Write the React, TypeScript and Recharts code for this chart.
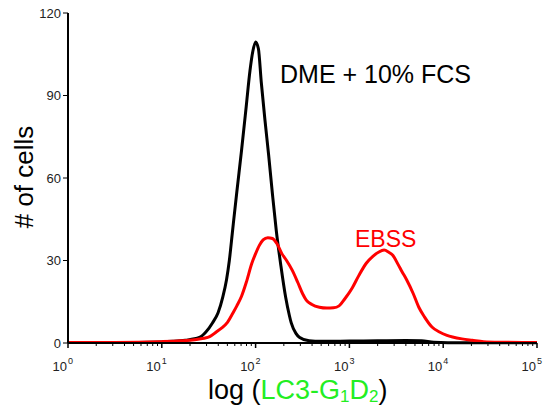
import { LineChart, Line, XAxis, YAxis } from 'recharts'

// log10 of fluorescence intensity and cell counts
const dmeLog = [0, 0.5, 1.0, 1.12, 1.25, 1.4, 1.47, 1.54, 1.6, 1.65, 1.69, 1.72, 1.755, 1.8, 1.85, 1.9, 1.94, 1.97, 2.0, 2.03, 2.06, 2.1, 2.14, 2.18, 2.22, 2.27, 2.32, 2.36, 2.38, 2.43, 2.47, 2.57, 2.7, 3.0, 3.3, 3.6, 3.77, 3.9, 4.2, 5]
const dmeCount = [0.2, 0.2, 0.4, 0.6, 1.0, 2.0, 4.0, 7.3, 11, 16.7, 23, 30, 41, 55, 70, 86, 99, 106, 109.5, 107, 95, 81, 68, 54, 41, 28, 16.7, 10, 7.3, 3.5, 2.0, 0.8, 0.6, 0.7, 0.8, 0.9, 0.8, 0.3, 0.1, 0.1]

const ebssLog = [0, 0.5, 1.0, 1.2, 1.35, 1.45, 1.51, 1.58, 1.64, 1.7, 1.76, 1.8, 1.85, 1.9, 1.96, 2.0, 2.04, 2.08, 2.13, 2.18, 2.23, 2.28, 2.33, 2.39, 2.45, 2.5, 2.54, 2.6, 2.68, 2.76, 2.83, 2.89, 2.95, 3.03, 3.1, 3.18, 3.25, 3.31, 3.37, 3.42, 3.46, 3.52, 3.56, 3.61, 3.68, 3.74, 3.8, 3.88, 3.96, 4.04, 4.1, 4.2, 4.31, 4.43, 4.6, 5]
const ebssCount = [0.2, 0.2, 0.5, 0.8, 1.2, 1.7, 2.3, 4, 5.5, 7.5, 11, 13.5, 17, 22, 29, 32.5, 35.5, 37.5, 38.3, 38, 36, 32.5, 30, 26.5, 22, 18, 15.6, 14, 13, 12.7, 12.8, 13.5, 16, 20, 24.5, 29, 31.5, 33, 33.8, 33, 32, 28.5, 26, 23, 18, 13, 9.5, 5.8, 4, 2.8, 2.2, 1.5, 1, 0.5, 0.3, 0.2]

const yTicks = [0, 30, 60, 90, 120]
const decades = [0, 1, 2, 3, 4, 5]

const dmeData = dmeLog.map((x, i) => ({ x, count: dmeCount[i] }))
const ebssData = ebssLog.map((x, i) => ({ x, count: ebssCount[i] }))

// major ticks at each decade plus minor ticks at 2..9
const xTicks: number[] = []
decades.forEach((d) => {
  xTicks.push(d)
  if (d < 5) for (let k = 2; k <= 9; k++) xTicks.push(d + Math.log10(k))
})

const W = 543
const H = 406
const font = '"Liberation Sans", Arial, sans-serif'

function LogTick(props: any) {
  const { x, y, payload } = props
  const v = payload.value as number
  const major = Math.abs(v - Math.round(v)) < 1e-6
  return (
    <g>
      <line x1={x} x2={x} y1={y} y2={y + (major ? 5 : 3)} stroke="#000" strokeWidth={major ? 1.5 : 1} />
      {major && (
        <text y={y + 28} fontFamily={font} fill="#222">
          <tspan x={x - 1} textAnchor="end" fontSize={13}>10</tspan>
          <tspan x={x} dy={-7} textAnchor="start" fontSize={9}>{Math.round(v)}</tspan>
        </text>
      )}
    </g>
  )
}

export default function App() {
  return (
    <div style={{ position: 'absolute', left: 0, top: 0, width: W, height: H, background: '#fff' }}>
      <LineChart width={W} height={H} margin={{ top: 13, right: 6, bottom: 33, left: 0 }}>
        <XAxis
          dataKey="x"
          type="number"
          domain={[0, 5]}
          ticks={xTicks}
          interval={0}
          height={30}
          tick={<LogTick />}
          tickLine={false}
          tickSize={0}
          tickMargin={0}
          axisLine={{ stroke: '#000', strokeWidth: 2 }}
        />
        <XAxis xAxisId="top" orientation="top" type="number" domain={[0, 5]} height={0} tick={false} tickLine={false} axisLine={{ stroke: '#222', strokeWidth: 1 }} />
        <YAxis
          type="number"
          domain={[0, 120]}
          ticks={yTicks}
          width={68}
          tickSize={5}
          tickMargin={2}
          tick={{ fontSize: 13, fontFamily: font, fill: '#222' }}
          tickLine={{ stroke: '#000' }}
          axisLine={{ stroke: '#000', strokeWidth: 2 }}
        />
        <YAxis yAxisId="right" orientation="right" width={0} domain={[0, 120]} tick={false} tickLine={false} axisLine={{ stroke: '#222', strokeWidth: 1 }} />
        <Line data={dmeData} dataKey="count" type="monotone" stroke="#000" strokeWidth={3} dot={false} isAnimationActive={false} />
        <Line data={ebssData} dataKey="count" type="monotone" stroke="#ff0000" strokeWidth={3} dot={false} isAnimationActive={false} />
      </LineChart>
      <svg width={W} height={H} style={{ position: 'absolute', left: 0, top: 0, pointerEvents: 'none' }}>
        <text x={280} y={83} fontFamily={font} fontSize={25} fill="#000">DME + 10% FCS</text>
        <text x={355} y={247} fontFamily={font} fontSize={23} fill="#ff0000">EBSS</text>
        <text x={33} y={177} fontFamily={font} fontSize={26} fill="#000" textAnchor="middle" transform="rotate(-90 33 177)"># of cells</text>
        <text x={208} y={399} fontFamily={font} fontSize={27} fill="#000">
          log (
          <tspan fill="#22ee22">LC3-G</tspan>
          <tspan fill="#22ee22" fontSize={17} dy={3}>1</tspan>
          <tspan fill="#22ee22" dy={-3}>D</tspan>
          <tspan fill="#22ee22" fontSize={17} dy={3}>2</tspan>
          <tspan dy={-3}>)</tspan>
        </text>
      </svg>
    </div>
  )
}
